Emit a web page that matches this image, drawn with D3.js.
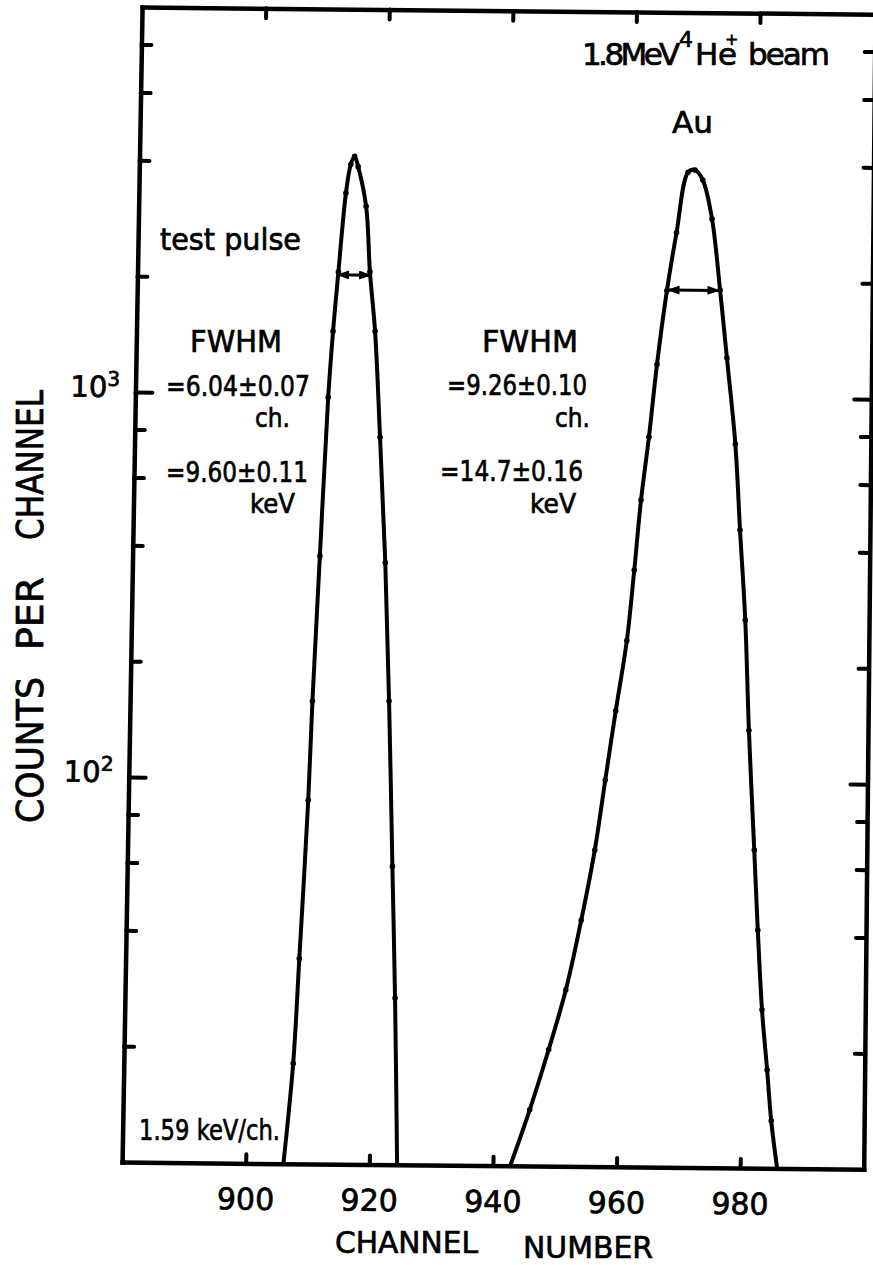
<!DOCTYPE html>
<html><head><meta charset="utf-8">
<script src="https://cdn.jsdelivr.net/npm/d3@7"></script>
<style>
html,body{margin:0;padding:0;background:#fff;}
svg{display:block;}
text{font-family:"DejaVu Sans",sans-serif;fill:#000;stroke:#000;stroke-width:0.7px;}
</style></head><body>
<svg id="chart" width="873" height="1265"></svg>
<script>
// ---- data ----
const xDomain = [880, 1000];
const yDomain = [10, 10000];
const xTicks = [900, 920, 940, 960, 980];
const yMajorTicks = [100, 1000];
const yMinorTicks = [20, 40, 60, 80, 200, 400, 600, 800, 2000, 4000, 6000, 8000];
const yLabelExp = {100: "2", 1000: "3"};

// test pulse peak (channel, counts per channel)
const pulseChannels = [906.1, 907.4, 908.1, 909.1, 909.5, 910.3, 911.2, 911.8, 912.5, 913.5, 914.2, 914.8, 915.4, 916.8, 917.6, 918.6, 919.7, 920.9, 921.9, 922.9, 923.7, 924.5];
const pulseCounts   = [10, 18.2, 34.1, 88, 159, 379, 979, 1455, 2075, 3330, 3950, 4150, 3900, 3080, 2080, 1459, 774, 366, 160, 59.6, 27.1, 10];

// Au peak
const auChannels = [942.8, 945.8, 948.7, 951.3, 953.6, 955.6, 957.1, 958.6, 960.2, 961.2, 962.1, 963.2, 964.3, 965.7, 967.1, 968.8, 969.9, 971.2, 972.8, 974.3, 975.6, 977.2, 978.2, 979.3, 980.2, 981.4, 982.2, 983.1, 984.1, 984.9, 986.0];
const auCounts   = [10, 14.0, 20.1, 28.7, 43.6, 66.4, 101, 153, 233, 355, 540, 787, 1216, 1892, 2679, 3846, 3900, 3673, 2911, 1905, 1268, 759, 454, 265, 137, 67, 41.5, 25.8, 18.0, 13.3, 10];

// FWHM markers
const fwhmLo = [912.2, 965.7];
const fwhmHi = [917.9, 974.3];
const fwhmLevel = [2040, 1900];

// ---- drawing ----
const W = 741.6, H = 1155;
const svg = d3.select("#chart");
const defs = svg.append("defs");
defs.append("marker").attr("id","arr").attr("viewBox","0 0 14 10")
  .attr("refX",14).attr("refY",5).attr("markerWidth",14).attr("markerHeight",9)
  .attr("markerUnits","userSpaceOnUse").attr("orient","auto-start-reverse")
  .append("path").attr("d","M0,0 L14,5 L0,10 Z").attr("fill","#000");

// the scanned figure is slightly sheared: map plot space onto the page
const g = svg.append("g").attr("transform","matrix(1,0.0097,-0.01732,1,142.1,7.1)");
const xs = d3.scaleLinear().domain(xDomain).range([0, W]);
const ys = d3.scaleLog().domain(yDomain).range([H, 0]);

function styleAxis(sel, keepDomain){
  sel.attr("font-family", null).attr("font-size", null);
  if (keepDomain) sel.select(".domain").attr("stroke","#000").attr("stroke-width",4.5).attr("stroke-linecap","square");
  else sel.select(".domain").remove();
  sel.selectAll(".tick line").attr("stroke","#000").attr("stroke-width",4).attr("stroke-linecap","round");
}

const axB = g.append("g").attr("transform",`translate(0,${H})`)
  .call(d3.axisBottom(xs).tickValues(xTicks).tickSize(-9).tickSizeOuter(0).tickPadding(25).tickFormat(d3.format("d")));
styleAxis(axB, true);
axB.selectAll(".tick text").attr("font-size",30).attr("fill","#000");

const axT = g.append("g").call(d3.axisTop(xs).tickValues(xTicks).tickSize(-10).tickSizeOuter(0).tickFormat(() => ""));
styleAxis(axT, true);

const axL = g.append("g").call(d3.axisLeft(ys).tickValues(yMajorTicks).tickSize(-17).tickSizeOuter(0).tickFormat(() => ""));
styleAxis(axL, true);
const axLm = g.append("g").call(d3.axisLeft(ys).tickValues(yMinorTicks).tickSize(-10).tickSizeOuter(0).tickFormat(() => ""));
styleAxis(axLm, false);

// right edge of the scan is a little less tilted
const rightT = `translate(${W},${H}) skewX(0.43) translate(0,${-H})`;
const axR = g.append("g").attr("transform", rightT)
  .call(d3.axisRight(ys).tickValues(yMajorTicks).tickSize(-17).tickSizeOuter(0).tickFormat(() => ""));
styleAxis(axR, true);
const axRm = g.append("g").attr("transform", rightT)
  .call(d3.axisRight(ys).tickValues(yMinorTicks).tickSize(-10).tickSizeOuter(0).tickFormat(() => ""));
styleAxis(axRm, false);

// y tick labels 10^n
yMajorTicks.forEach(v => {
  const t = g.append("text").attr("x", -15.5).attr("y", ys(v) + 5).attr("text-anchor","end");
  t.append("tspan").attr("font-size",29).text("10");
  t.append("tspan").attr("font-size",20).attr("dy",-11).text(yLabelExp[v]);
});

// curves
const line = d3.line().x(d => xs(d[0])).y(d => ys(d[1])).curve(d3.curveCatmullRom.alpha(0.5));
const pulse = pulseChannels.map((c,i) => [c, pulseCounts[i]]);
const au = auChannels.map((c,i) => [c, auCounts[i]]);
[pulse, au].forEach(s => {
  g.append("path").attr("d", line(s)).attr("fill","none").attr("stroke","#000")
    .attr("stroke-width",4).attr("stroke-linejoin","round");
  g.selectAll(null).data(s.filter(d => d[1] > 10)).enter().append("circle")
    .attr("cx", d => xs(d[0])).attr("cy", d => ys(d[1])).attr("r", 2.8).attr("fill","#000");
});

// FWHM arrows
fwhmLo.forEach((lo,i) => {
  g.append("line").attr("x1", xs(lo)).attr("x2", xs(fwhmHi[i]))
    .attr("y1", ys(fwhmLevel[i])).attr("y2", ys(fwhmLevel[i]))
    .attr("stroke","#000").attr("stroke-width",3)
    .attr("marker-start","url(#arr)").attr("marker-end","url(#arr)");
});

// ---- annotation texts ----
// parts: [string, x, y, fontSize, textLength or null, anchor or null]
function multi(parts){
  const t = svg.append("text");
  parts.forEach(([s, xx, yy, size, len, anchor]) => {
    const sp = t.append("tspan").attr("x", xx).attr("y", yy).attr("font-size", size).text(s);
    if (len) sp.attr("textLength", len).attr("lengthAdjust","spacingAndGlyphs");
    if (anchor) sp.attr("text-anchor", anchor);
  });
  return t;
}
function txt(s, xx, yy, size, len){ return multi([[s, xx, yy, size, len, null]]); }

// beam title, letter-spaced to the narrow lettering of the original
const bt = svg.append("text");
bt.append("tspan").attr("x", 582).attr("y", 65).attr("font-size", 31).attr("letter-spacing", -3.6).text("1.8MeV");
bt.append("tspan").attr("x", 679).attr("y", 47).attr("font-size", 22).text("4");
bt.append("tspan").attr("x", 695).attr("y", 65).attr("font-size", 31).attr("letter-spacing", -0.3).text("He");
bt.append("tspan").attr("x", 731.7).attr("y", 45).attr("font-size", 16).attr("text-anchor","middle").text("+");
bt.append("tspan").attr("x", 748).attr("y", 65).attr("font-size", 31).attr("letter-spacing", -2).text("beam");
txt("Au", 672, 133, 31, 41);

// left block
txt("test pulse", 160, 250, 30, 141);
txt("FWHM", 190, 352, 30, 92);
multi([["=6.04±0.07", 166, 396, 29, 144], ["ch.", 255, 427, 26, 35]]);
multi([["=9.60±0.11", 166, 482, 29, 142], ["keV", 250, 513, 26, 45]]);

// right block
txt("FWHM", 482, 352, 30, 96);
multi([["=9.26±0.10", 447, 395, 29, 140], ["ch.", 555, 427, 26, 35]]);
multi([["=14.7±0.16", 440, 481, 29, 143], ["keV", 530, 513, 26, 46]]);

txt("1.59 keV/ch.", 139, 1140, 29, 141);

// axis titles
multi([["CHANNEL", 335, 1253, 31, 143], ["NUMBER", 523, 1258, 31, 130]]);

const yt = svg.append("text").attr("transform","translate(43,0) rotate(-90)").attr("font-size",37);
[["COUNTS", -823, 146], ["PER", -650, 73], ["CHANNEL", -540, 150]].forEach(([s, xx, len]) => {
  yt.append("tspan").attr("x", xx).attr("y", 0).attr("textLength", len)
    .attr("lengthAdjust","spacingAndGlyphs").text(s);
});
</script>
</body></html>
